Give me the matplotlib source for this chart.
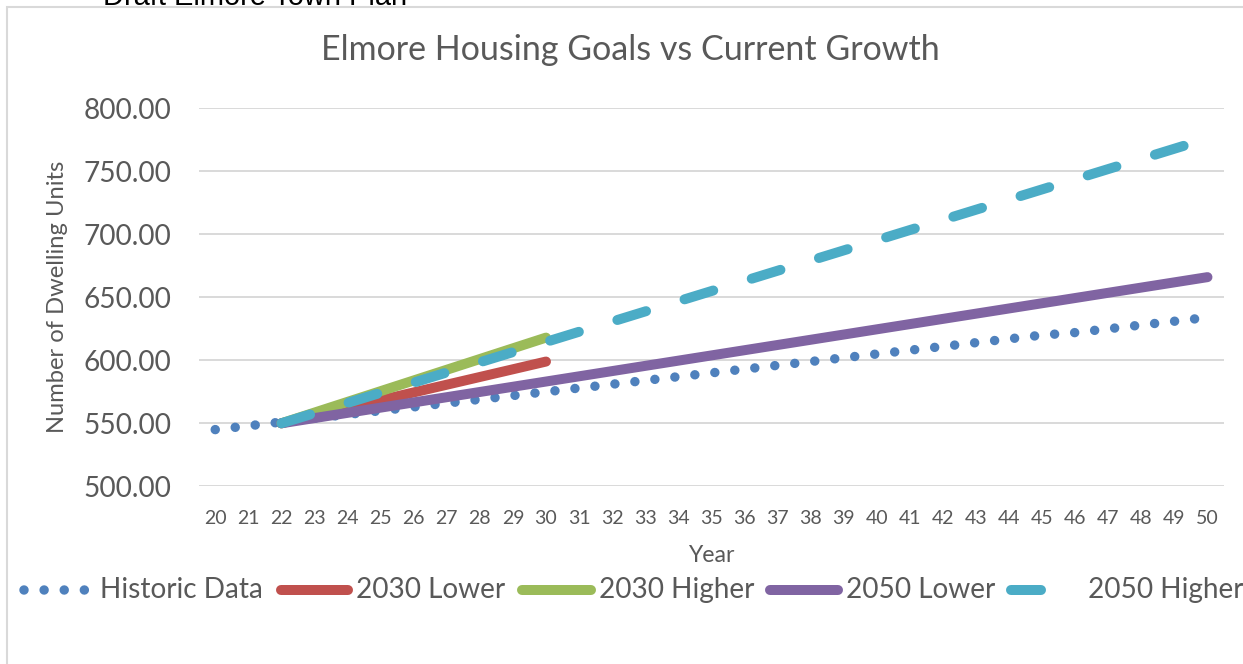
import matplotlib
matplotlib.use("Agg")
import matplotlib.pyplot as plt
from matplotlib.lines import Line2D
from matplotlib.patches import Rectangle

# ---- data ---------------------------------------------------------------
years = ['20', '21', '22', '23', '24', '25', '26', '27', '28', '29', '30',
         '31', '32', '33', '34', '35', '36', '37', '38', '39', '40',
         '41', '42', '43', '44', '45', '46', '47', '48', '49', '50']

historic_units = [545, 548, 551, 554, 557, 560, 563, 566, 569, 572, 575,
                  578, 581, 584, 587, 590, 593, 596, 599, 602, 605,
                  608, 611, 614, 617, 620, 622, 625, 628, 631, 634]

lower_2030_years = ['22', '30']
lower_2030_units = [550, 599]

higher_2030_years = ['22', '30']
higher_2030_units = [550, 618]

lower_2050_years = ['22', '50']
lower_2050_units = [550, 666]

higher_2050_years = ['22', '50']
higher_2050_units = [550, 776]

y_ticks = [500, 550, 600, 650, 700, 750, 800]

series_names = ['Historic Data', '2030 Lower', '2030 Higher', '2050 Lower', '2050 Higher']

# ---- styling ------------------------------------------------------------
plt.rcParams['lines.scale_dashes'] = False
plt.rcParams['font.family'] = ['Lato', 'DejaVu Sans']

W, H = 1243, 664
PX = 72 / 100  # points per pixel at dpi 100
TEXT = '#595959'
GRID = '#D9D9D9'
BLUE, RED, GREEN, PURPLE, CYAN = '#4F81BD', '#C0504D', '#9BBB59', '#8064A2', '#4BACC6'

dot_style = dict(color=BLUE, lw=9.5 * PX, linestyle=(0, (0.01, 20.1 * PX)),
                 dash_capstyle='round', solid_capstyle='round')
solid_kw = dict(lw=10 * PX, solid_capstyle='round')
dash_style = dict(color=CYAN, lw=10 * PX, linestyle=(0, (30 * PX, 40.3 * PX)),
                  dash_capstyle='round')


def fx(x):
    return x / W


def fy(y):
    return 1 - y / H


fig = plt.figure(figsize=(W / 100, H / 100), dpi=100)
fig.patch.set_facecolor('white')

# chart frame
fig.add_artist(Rectangle((fx(7), fy(H + 20)), 2.0, fy(7) - fy(H + 20),
                         transform=fig.transFigure, fill=False,
                         edgecolor=GRID, lw=1.5))

# document header peeking in above the chart
fig.text(fx(103), fy(5), 'Draft Elmore Town Plan', family='Liberation Sans',
         fontsize=29 * PX, color='black', ha='left', va='baseline')

left, right, top, bottom = 198.7, 1224, 108.3, 486.3
ax = fig.add_axes([fx(left), fy(bottom), (right - left) / W, (bottom - top) / H])

ax.plot(years, historic_units, **dot_style, zorder=3)
ax.plot(lower_2030_years, lower_2030_units, color=RED, **solid_kw, zorder=4)
ax.plot(higher_2030_years, higher_2030_units, color=GREEN, **solid_kw, zorder=5)
ax.plot(lower_2050_years, lower_2050_units, color=PURPLE, **solid_kw, zorder=6)
ax.plot(higher_2050_years, higher_2050_units, **dash_style, zorder=7)

ax.set_xlim(-0.5, len(years) - 0.5)
ax.set_ylim(500, 800)
ax.set_yticks(y_ticks)
ax.set_yticklabels([f'{v:.2f}' for v in y_ticks])
ax.grid(axis='y', color=GRID, lw=1.4)
ax.set_axisbelow(True)
for s in ax.spines.values():
    s.set_visible(False)
ax.tick_params(axis='x', length=0, pad=17, labelsize=19.5 * PX, labelcolor=TEXT)
ax.tick_params(axis='y', length=0, pad=20, labelsize=28 * PX, labelcolor=TEXT)

fig.text(fx(630), fy(50), 'Elmore Housing Goals vs Current Growth',
         fontsize=34 * PX, color=TEXT, ha='center', va='center')
fig.text(fx(711), fy(556), 'Year', fontsize=23 * PX, color=TEXT,
         ha='center', va='center')
fig.text(fx(57), fy(297), 'Number of Dwelling Units', fontsize=23.7 * PX,
         color=TEXT, ha='center', va='center', rotation=90)

# ---- legend -------------------------------------------------------------
ly = fy(590)
handles = [
    (23.7, 86, dot_style, 99.6),
    (281, 348, dict(color=RED, **solid_kw), 356),
    (522, 591, dict(color=GREEN, **solid_kw), 599),
    (770, 838, dict(color=PURPLE, **solid_kw), 846.5),
    (1011, 1042, dash_style, 1088),
]
for name, (x0, x1, style, tx) in zip(series_names, handles):
    fig.add_artist(Line2D([fx(x0), fx(x1)], [ly, ly], transform=fig.transFigure, **style))
    fig.text(fx(tx), ly, name, fontsize=28 * PX, color=TEXT, ha='left', va='center')

fig.savefig('out.png', dpi=100)
